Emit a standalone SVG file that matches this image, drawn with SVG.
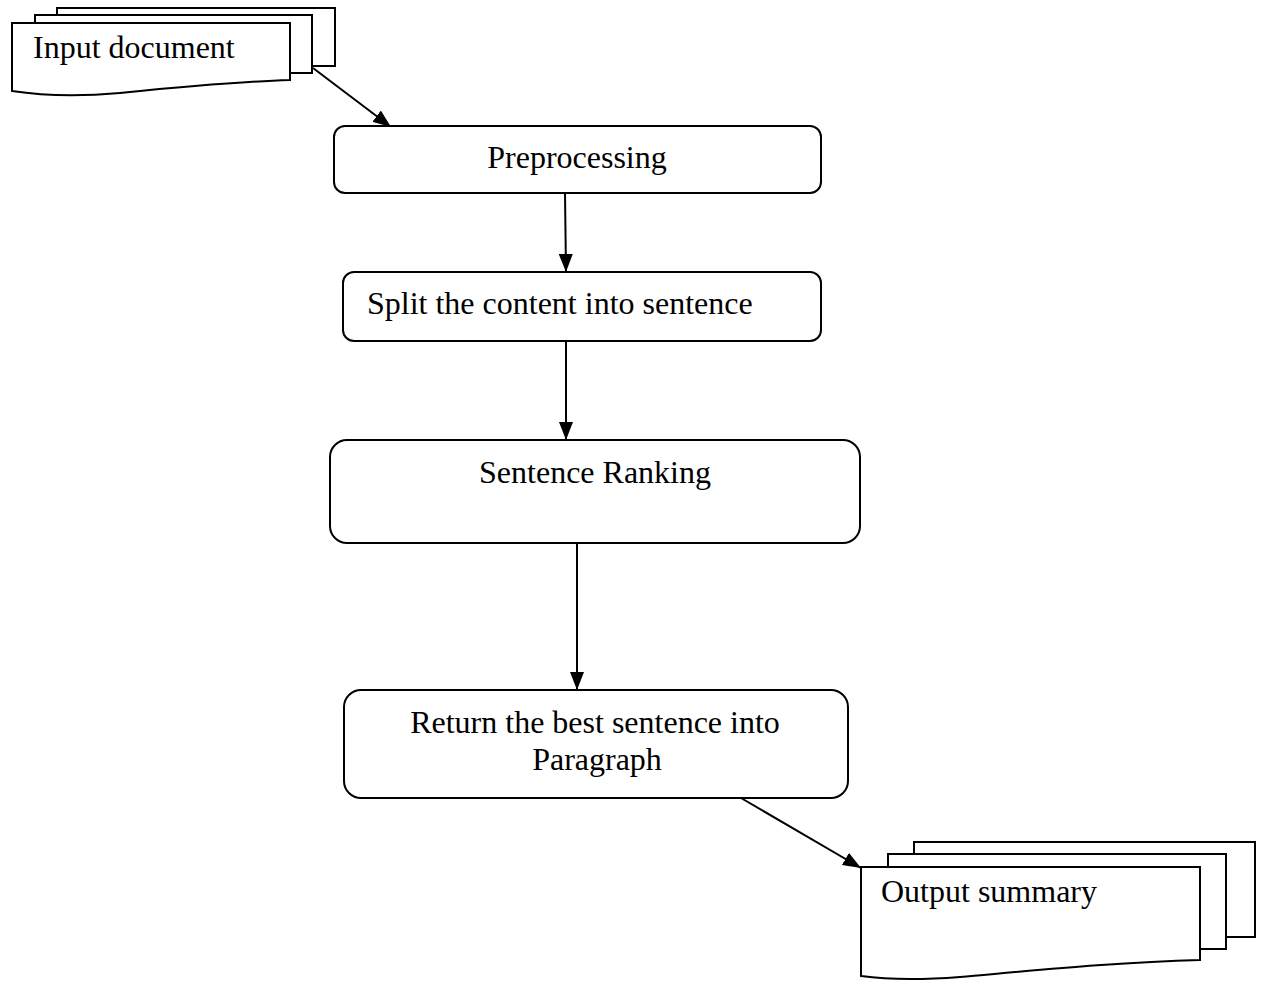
<svg xmlns="http://www.w3.org/2000/svg" width="1261" height="981" viewBox="0 0 1261 981">
  <style>
    .shape { fill: #fff; stroke: #000; stroke-width: 2; }
    .label { font-family: "Liberation Serif", "Times New Roman", serif; font-size: 32px; fill: #000; }
    .conn { stroke: #000; stroke-width: 2; fill: none; marker-end: url(#head); }
  </style>
  <defs>
    <marker id="head" markerUnits="userSpaceOnUse" markerWidth="20" markerHeight="14" refX="18" refY="7" orient="auto">
      <path d="M0,0 L18,7 L0,14 Z" fill="#000"/>
    </marker>
  </defs>
  <rect width="1261" height="981" fill="#fff"/>

  <!-- Connectors -->
  <g id="connectors">
    <line class="conn" x1="313" y1="68" x2="391" y2="127"/>
    <line class="conn" x1="565" y1="193" x2="566" y2="272"/>
    <line class="conn" x1="566" y1="341" x2="566" y2="440"/>
    <line class="conn" x1="577" y1="543" x2="577" y2="690"/>
    <line class="conn" x1="741" y1="798" x2="861" y2="868"/>
  </g>

  <!-- Stacked documents: input -->
  <g id="input-document">
    <rect class="shape" x="57" y="8" width="278" height="58"/>
    <rect class="shape" x="35" y="15" width="277" height="58"/>
    <path class="shape" d="M12,23 H290 V80 C230,82 170,88 120,93 C85,96 45,96 12,91 Z"/>
    <text class="label" x="33" y="58">Input document</text>
  </g>

  <g id="preprocessing">
    <rect class="shape" x="334" y="126" width="487" height="67" rx="11"/>
    <text class="label" x="577" y="168" text-anchor="middle">Preprocessing</text>
  </g>

  <g id="split">
    <rect class="shape" x="343" y="272" width="478" height="69" rx="11"/>
    <text class="label" x="367" y="314">Split the content into sentence</text>
  </g>

  <g id="ranking">
    <rect class="shape" x="330" y="440" width="530" height="103" rx="17"/>
    <text class="label" x="595" y="483" text-anchor="middle">Sentence Ranking</text>
  </g>

  <g id="return-best">
    <rect class="shape" x="344" y="690" width="504" height="108" rx="17"/>
    <text class="label" x="595" y="733" text-anchor="middle">Return the best sentence into</text>
    <text class="label" x="597" y="770" text-anchor="middle">Paragraph</text>
  </g>

  <!-- Stacked documents: output -->
  <g id="output-summary">
    <rect class="shape" x="914" y="842" width="341" height="95"/>
    <rect class="shape" x="888" y="854" width="338" height="95"/>
    <path class="shape" d="M861,867 H1200 V960 C1120,962 1040,970 960,977 C920,980 890,980 861,976 Z"/>
    <text class="label" x="881" y="902">Output summary</text>
  </g>
</svg>
